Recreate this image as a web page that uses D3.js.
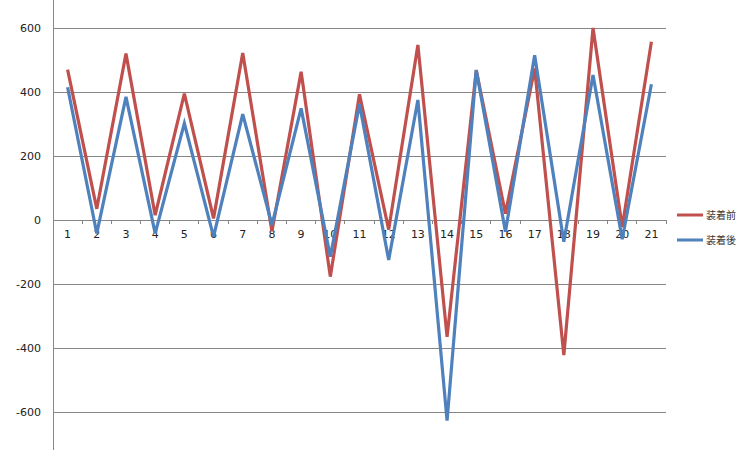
<!DOCTYPE html>
<html><head><meta charset="utf-8">
<script src="https://cdn.jsdelivr.net/npm/d3@7"></script>
<style>body{margin:0;background:#fff}svg{display:block}</style>
</head><body>
<svg id="c" width="750" height="450"></svg>
<script>
const categories = ["1","2","3","4","5","6","7","8","9","10","11","12","13","14","15","16","17","18","19","20","21"];
const seriesNames = ["装着前","装着後"];
const before = [470,35,520,15,395,5,522,-35,463,-177,393,-30,547,-365,468,20,474,-422,600,-22,557];
const after  = [415,-42,385,-42,302,-52,331,-15,349,-115,362,-125,375,-627,469,-37,515,-68,453,-60,424];
const yTicks = [-600,-400,-200,0,200,400,600];
const colors = ["#C0504D","#4F81BD"];

const svg = d3.select("#c");
const font = "'DejaVu Sans', Verdana, sans-serif";
const x = d3.scaleBand().domain(categories).range([53, 666]);
const y = d3.scaleLinear().domain([-700, 700]).range([444, -4]);

// gridlines
svg.append("g").selectAll("line").data(yTicks.filter(d=>d!==0)).join("line")
  .attr("x1", 53).attr("x2", 666).attr("y1", d=>y(d)).attr("y2", d=>y(d))
  .attr("stroke", "#868686").attr("stroke-width", 1).attr("shape-rendering","crispEdges");

// y axis
const yAxis = svg.append("g").attr("transform","translate(53,0)")
  .call(d3.axisLeft(y).tickValues(yTicks).tickSize(0).tickPadding(12).tickFormat(d=>String(d)));
yAxis.select(".domain").remove();
yAxis.append("line").attr("x1",0).attr("x2",0).attr("y1",0).attr("y2",450)
  .attr("stroke","#868686").attr("shape-rendering","crispEdges");
yAxis.selectAll("text").attr("font-family", font).attr("font-size", 11).attr("fill","#222");

// x axis at zero
const xg = svg.append("g").attr("transform", `translate(0,${y(0)})`);
xg.append("line").attr("x1",53).attr("x2",666).attr("y1",0).attr("y2",0)
  .attr("stroke","#868686").attr("shape-rendering","crispEdges");
const bounds = categories.map(c => x(c) + x.bandwidth());
xg.selectAll("line.tk").data(bounds).join("line").attr("class","tk")
  .attr("x1", d=>d).attr("x2", d=>d).attr("y1",0).attr("y2",4)
  .attr("stroke","#868686").attr("shape-rendering","crispEdges");
xg.selectAll("text").data(categories).join("text")
  .attr("x", d=>x(d)+x.bandwidth()/2).attr("y", 18)
  .attr("text-anchor","middle").attr("font-family", font).attr("font-size", 11).attr("fill","#222")
  .text(d=>d);

// lines
const line = d3.line().x((d,i)=>x(categories[i])+x.bandwidth()/2).y(d=>y(d));
[before, after].forEach((s,i)=>{
  svg.append("path").datum(s).attr("d", line).attr("fill","none")
    .attr("stroke", colors[i]).attr("stroke-width", 3.2).attr("stroke-linejoin","miter");
});

// legend
const lg = svg.append("g");
seriesNames.forEach((n,i)=>{
  const yy = 215 + i*25;
  lg.append("line").attr("x1",677).attr("x2",703).attr("y1",yy).attr("y2",yy)
    .attr("stroke", colors[i]).attr("stroke-width",3);
  lg.append("text").attr("x",706).attr("y",yy+4).attr("font-family","'Noto Sans CJK JP', sans-serif")
    .attr("font-size",10).attr("fill","#333").text(n);
});
</script>
</body></html>
